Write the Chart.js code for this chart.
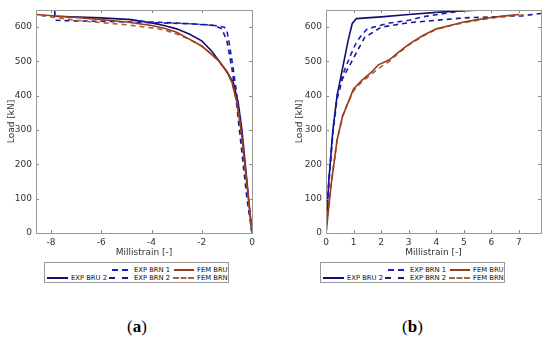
<!DOCTYPE html>
<html><head><meta charset="utf-8">
<script src="https://cdn.jsdelivr.net/npm/chart.js@4/dist/chart.umd.min.js"></script>
<style>
body{margin:0;width:550px;height:340px;background:#fff;position:relative;overflow:hidden;font-family:"DejaVu Sans",sans-serif}
.cv{position:absolute;top:0}
.leg{position:absolute;top:262px;height:21px;width:185px;border:1px solid #999;box-sizing:border-box;background:#fff}
.it{position:absolute;font-size:6.8px;color:#111;line-height:8px;white-space:nowrap}
.ln{position:absolute;height:0}
.cap{position:absolute;top:317px;font-family:"Liberation Serif",serif;font-size:17px;line-height:20px;color:#000}
</style></head><body>
<canvas id="ca" class="cv" style="left:0px" width="260" height="260"></canvas>
<canvas id="cb" class="cv" style="left:290px" width="260" height="260"></canvas>
<div id="lega" class="leg" style="left:44px"></div>
<div id="legb" class="leg" style="left:320px"></div>
<div class="cap" style="left:127px">(<b>a</b>)</div>
<div class="cap" style="left:402px">(<b>b</b>)</div>
<script>
// ---- data: panel (a) compression ----
const a_bru2_x = [0,-0.2,-0.4,-0.55,-0.75,-1.0,-1.3,-1.6,-2.0,-2.5,-3.0,-3.5,-4.0,-4.8,-6.0,-7.85,-7.85];
const a_bru2_y = [0,150,300,380,440,470,500,530,560,580,595,605,612,622,627,632,680];
const a_brn1_x = [0,-0.15,-0.3,-0.45,-0.6,-0.75,-0.9,-1.0,-1.1,-1.5,-2.0,-3.0,-4.0,-4.8];
const a_brn1_y = [0,100,200,300,400,480,550,590,600,605,608,612,615,620];
const a_brn2_x = [0,-0.2,-0.35,-0.5,-0.65,-0.8,-1.0,-1.2,-1.5,-2.5,-4.0,-5.0,-6.0,-7.0,-7.85];
const a_brn2_y = [0,100,200,300,400,480,560,595,605,610,613,615,617,618,620];
const a_femu_x = [0,-0.2,-0.4,-0.6,-0.8,-1.0,-1.3,-1.6,-2.0,-2.5,-3.0,-3.5,-4.0,-5.0,-6.0,-7.0,-8.6];
const a_femu_y = [0,140,280,380,440,470,500,520,545,565,585,597,605,615,622,628,637];
const a_femn_x = [0,-0.2,-0.4,-0.6,-0.8,-1.0,-1.3,-1.6,-2.0,-2.5,-3.0,-3.5,-4.0,-5.0,-6.0,-7.0,-8.0,-8.6];
const a_femn_y = [0,140,280,380,440,470,500,520,545,565,580,592,598,607,613,620,630,635];
// ---- data: panel (b) tension ----
const b_bru2_x = [0,0.1,0.25,0.4,0.6,0.8,0.95,1.1,2.0,3.0,4.0,5.0,6.4];
const b_bru2_y = [0,150,300,400,480,560,610,625,630,637,643,648,652];
const b_brn1_x = [0,0.1,0.25,0.4,0.6,0.9,1.1,1.3,1.5,2.3,3.0,3.5,4.3,5.0];
const b_brn1_y = [0,150,300,400,460,520,555,578,595,612,620,630,640,648];
const b_brn2_x = [0,0.1,0.25,0.4,0.6,0.8,1.0,1.2,1.4,2.0,3.0,4.0,5.0,6.0,7.1,7.8];
const b_brn2_y = [0,140,290,390,450,480,510,540,570,600,613,620,627,630,633,640];
const b_femu_x = [0,0.2,0.4,0.6,0.8,1.0,1.3,1.6,1.9,2.3,2.6,3.0,3.5,4.0,4.5,5.0,5.5,6.0,6.5,7.0];
const b_femu_y = [0,150,270,340,380,420,445,465,490,505,525,550,575,595,605,615,622,628,633,637];
const b_femn_x = [0,0.2,0.4,0.6,0.8,1.0,1.3,1.6,2.0,2.3,2.6,3.0,3.5,4.0,4.5,5.0,5.5,6.0,6.5,7.2];
const b_femn_y = [0,150,270,340,380,415,440,460,485,500,522,548,573,593,604,613,620,626,631,636];
const xTicksA = [-8,-6,-4,-2,0];
const xTicksB = [0,1,2,3,4,5,6,7];
const yTicks = [0,100,200,300,400,500,600];

const C = {bru2:'#10106e', brn1:'#1c1cc8', brn2:'#1a1a8a', femu:'#9a3b1c', femn:'#a8643a'};
const pts = (xs,ys)=>xs.map((x,i)=>({x:x,y:ys[i]}));
function ds(label,xs,ys,color,dash){
  return {label, data:pts(xs,ys), borderColor:color, backgroundColor:color, showLine:true,
    pointRadius:0, borderWidth:1.6, borderDash:dash?[5,4]:[], tension:0};
}
const innerTicks = {
  id:'innerTicks',
  afterDraw(ch){
    const c=ch.ctx, a=ch.chartArea; c.save(); c.strokeStyle='#888'; c.lineWidth=1;
    const xs=ch.scales.x, ys=ch.scales.y;
    xs.ticks.forEach(t=>{const p=Math.round(xs.getPixelForValue(t.value))+0.5;
      c.beginPath();c.moveTo(p,a.bottom);c.lineTo(p,a.bottom-3);c.moveTo(p,a.top);c.lineTo(p,a.top+3);c.stroke();});
    ys.ticks.forEach(t=>{const p=Math.round(ys.getPixelForValue(t.value))+0.5;
      c.beginPath();c.moveTo(a.left,p);c.lineTo(a.left+3,p);c.moveTo(a.right,p);c.lineTo(a.right-3,p);c.stroke();});
    c.strokeStyle='#999'; c.strokeRect(a.left+0.5,a.top+0.5,a.right-a.left,a.bottom-a.top);
    c.restore();
  }
};
function make(id,datasets,xmin,xmax,xt,padR,padL){
  const font={family:'"DejaVu Sans", sans-serif', size:9};
  return new Chart(document.getElementById(id),{
    type:'scatter',
    data:{datasets},
    options:{responsive:false, animation:false, devicePixelRatio:1,
      layout:{padding:{top:10,right:padR,left:padL,bottom:0}},
      plugins:{legend:{display:false}, tooltip:{enabled:false}},
      scales:{
        x:{type:'linear',min:xmin,max:xmax,
          afterBuildTicks:s=>{s.ticks=xt.map(v=>({value:v}));},
          afterFit:s=>{s.height=27;},
          grid:{display:false, drawTicks:false}, border:{display:false},
          ticks:{color:'#333',font,padding:4,maxRotation:0},
          title:{display:true,text:'Millistrain [-]',color:'#333',font,padding:{top:0,bottom:2}}},
        y:{type:'linear',min:0,max:650,
          afterBuildTicks:s=>{s.ticks=yTicks.map(v=>({value:v}));},
          afterFit:s=>{s.width=36-padL;},
          grid:{display:false, drawTicks:false}, border:{display:false},
          ticks:{color:'#333',font,padding:4},
          title:{display:true,text:'Load [kN]',color:'#333',font,padding:{top:0,bottom:0}}}
      }},
    plugins:[innerTicks]
  });
}
make('ca',[
  ds('FEM BRU',a_femu_x,a_femu_y,C.femu,false),
  ds('FEM BRN',a_femn_x,a_femn_y,C.femn,true),
  ds('EXP BRN 1',a_brn1_x,a_brn1_y,C.brn1,true),
  ds('EXP BRN 2',a_brn2_x,a_brn2_y,C.brn2,true),
  ds('EXP BRU 2',a_bru2_x,a_bru2_y,C.bru2,false)
],-8.6,0,xTicksA,8,6);
make('cb',[
  ds('FEM BRU',b_femu_x,b_femu_y,C.femu,false),
  ds('FEM BRN',b_femn_x,b_femn_y,C.femn,true),
  ds('EXP BRN 1',b_brn1_x,b_brn1_y,C.brn1,true),
  ds('EXP BRN 2',b_brn2_x,b_brn2_y,C.brn2,true),
  ds('EXP BRU 2',b_bru2_x,b_bru2_y,C.bru2,false)
],0,7.8,xTicksB,9,4);

// legend (2 rows x 3 columns, first cell empty)
const legItems=[
  {t:'EXP BRN 1',c:C.brn1,d:true,row:0,lx:67,lw:16,tx:89},
  {t:'FEM BRU',c:C.femu,d:false,row:0,lx:129,lw:20,tx:152},
  {t:'EXP BRU 2',c:C.bru2,d:false,row:1,lx:2,lw:21,tx:26},
  {t:'EXP BRN 2',c:C.brn2,d:true,row:1,lx:64,lw:19,tx:89},
  {t:'FEM BRN',c:C.femn,d:true,row:1,lx:128,lw:21,tx:152}
];
['lega','legb'].forEach(id=>{
  const el=document.getElementById(id);
  legItems.forEach(it=>{
    const top=it.row?11:3;
    const l=document.createElement('div'); l.className='ln';
    l.style.cssText=`left:${it.lx}px;top:${top+3}px;width:${it.lw}px;border-top:2px ${it.d?'dashed':'solid'} ${it.c}`;
    el.appendChild(l);
    const s=document.createElement('div'); s.className='it'; s.textContent=it.t;
    s.style.left=it.tx+'px'; s.style.top=top+'px'; el.appendChild(s);
  });
});
</script></body></html>
